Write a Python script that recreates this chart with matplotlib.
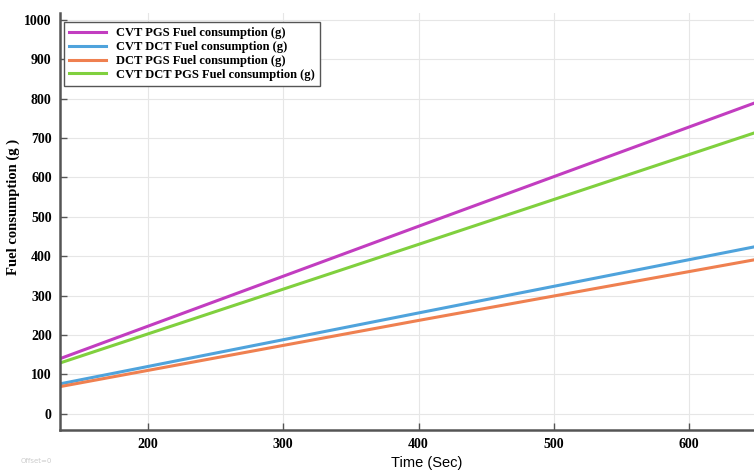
import matplotlib.pyplot as plt

# time points (s) and fuel consumption (g)
time_sec = [135, 400, 650]
cvt_pgs = [140, 476, 791]
cvt_dct = [76, 256, 425]
dct_pgs = [69, 237, 392]
cvt_dct_pgs = [129, 430, 715]

labels = ['CVT PGS Fuel consumption (g)',
          'CVT DCT Fuel consumption (g)',
          'DCT PGS Fuel consumption (g)',
          'CVT DCT PGS Fuel consumption (g)']
colors = ['#C23DC0', '#4FA3DC', '#EF8050', '#80D03E']
x_ticks = [200, 300, 400, 500, 600]
y_ticks = [0, 100, 200, 300, 400, 500, 600, 700, 800, 900, 1000]


def main():
    fig = plt.figure(figsize=(7.54, 4.73), dpi=100)
    ax = fig.add_axes([0.0796, 0.091, 0.9204, 0.882])

    for vals, lab, col in zip([cvt_pgs, cvt_dct, dct_pgs, cvt_dct_pgs], labels, colors):
        ax.plot(time_sec, vals, color=col, lw=2.2, label=lab)

    ax.set_xlim(135, 648)
    ax.set_ylim(-41, 1018)
    ax.set_xticks(x_ticks)
    ax.set_yticks(y_ticks)
    ax.grid(True, color='#e6e6e6', lw=0.8)

    for side in ['top', 'right']:
        ax.spines[side].set_visible(False)
    for side in ['left', 'bottom']:
        ax.spines[side].set_color('#555555')
        ax.spines[side].set_linewidth(1.8)

    ax.tick_params(direction='in', length=5, width=1, color='#555555', pad=6)
    for t in ax.get_xticklabels() + ax.get_yticklabels():
        t.set_fontfamily('Liberation Serif')
        t.set_fontweight('bold')
        t.set_fontsize(10)

    ax.set_xlabel('Time (Sec)', fontsize=10.5, family='Liberation Sans')
    ax.xaxis.set_label_coords(0.529, -0.062)
    ax.set_ylabel('Fuel consumption (g )', fontsize=10.5, family='Liberation Serif',
                  fontweight='bold')
    ax.yaxis.set_label_coords(-0.057, 0.535)

    leg = ax.legend(loc='upper left', bbox_to_anchor=(0.0, 0.988), fancybox=False,
                    prop={'family': 'Liberation Serif', 'weight': 'bold', 'size': 9},
                    handlelength=2.9, labelspacing=0.15, borderpad=0.45,
                    borderaxespad=0.3, framealpha=1)
    leg.get_frame().set_edgecolor('#555555')
    leg.get_frame().set_linewidth(1.0)

    fig.text(0.027, 0.022, 'Offset=0', fontsize=5, color='#cccccc')

    fig.savefig('out.png', dpi=100)


if __name__ == '__main__':
    main()
